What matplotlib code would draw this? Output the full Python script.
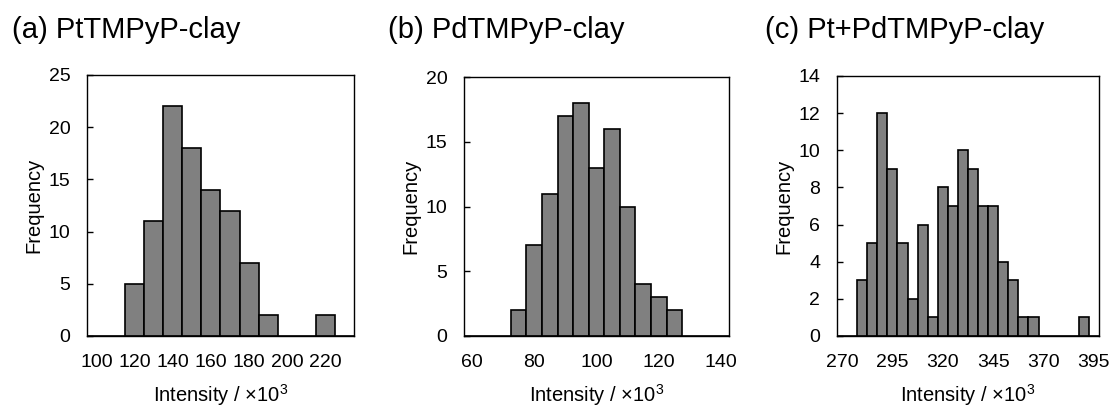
import matplotlib
matplotlib.use("Agg")
import matplotlib.pyplot as plt
import numpy as np

plt.rcParams['font.family'] = ['Liberation Sans', 'DejaVu Sans']
plt.rcParams['mathtext.fontset'] = 'custom'
plt.rcParams['mathtext.rm'] = 'Liberation Sans'

# (a) PtTMPyP-clay : bin centres and counts
bins_a = [100, 110, 120, 130, 140, 150, 160, 170, 180, 190, 200, 210, 220, 230]
freq_a = [0, 0, 5, 11, 22, 18, 14, 12, 7, 2, 0, 0, 2, 0]

# (b) PdTMPyP-clay
bins_b = [60, 65, 70, 75, 80, 85, 90, 95, 100, 105, 110, 115, 120, 125, 130, 135, 140]
freq_b = [0, 0, 0, 2, 7, 11, 17, 18, 13, 16, 10, 4, 3, 2, 0, 0, 0]

# (c) Pt+PdTMPyP-clay
bins_c = [270, 275, 280, 285, 290, 295, 300, 305, 310, 315, 320, 325, 330,
          335, 340, 345, 350, 355, 360, 365, 370, 375, 380, 385, 390, 395]
freq_c = [0, 0, 3, 5, 12, 9, 5, 2, 6, 1, 8, 7, 10,
          9, 7, 7, 4, 3, 1, 1, 0, 0, 0, 0, 1, 0]

titles = ["(a) PtTMPyP-clay", "(b) PdTMPyP-clay", "(c) Pt+PdTMPyP-clay"]

fig = plt.figure(figsize=(11.13, 4.07), dpi=100)

W, H = 1113, 407
boxes = [(87, 354, 75), (464, 729, 77), (837, 1099, 76)]
bottom_px = 336

panels = [
    (bins_a, freq_a, 10, 20, 25, 5),
    (bins_b, freq_b, 5, 20, 20, 5),
    (bins_c, freq_c, 5, 25, 14, 2),
]
title_x = [12, 388, 765]

for i, (bins, freq, width, xstep, ymax, ystep) in enumerate(panels):
    l, r, t = boxes[i]
    ax = fig.add_axes([l / W, (H - bottom_px) / H, (r - l) / W, (bottom_px - t) / H])
    ax.bar(bins, freq, width=width, color="#808080", edgecolor="black", linewidth=1.2)
    ax.set_xlim(bins[0] - width / 2, bins[-1] + width / 2)
    ax.set_ylim(0, ymax)
    ax.set_xticks(np.arange(bins[0], bins[-1] + 1, xstep))
    ax.set_yticks(np.arange(0, ymax + 1, ystep))
    ax.tick_params(axis="x", length=0, labelsize=14, pad=13)
    ax.tick_params(axis="y", direction="in", length=4.5, width=1.0, labelsize=14, pad=12)
    for s in ax.spines.values():
        s.set_color("black")
        s.set_linewidth(1.0)
    ax.set_xlabel("Intensity / ×10$^3$", fontsize=14.5, labelpad=8)
    ax.set_ylabel("Frequency", fontsize=14.5, labelpad=4)
    fig.text(title_x[i] / W, 1 - 30 / H, titles[i], fontsize=21, va="center", ha="left")

fig.savefig("out.png", dpi=100)
